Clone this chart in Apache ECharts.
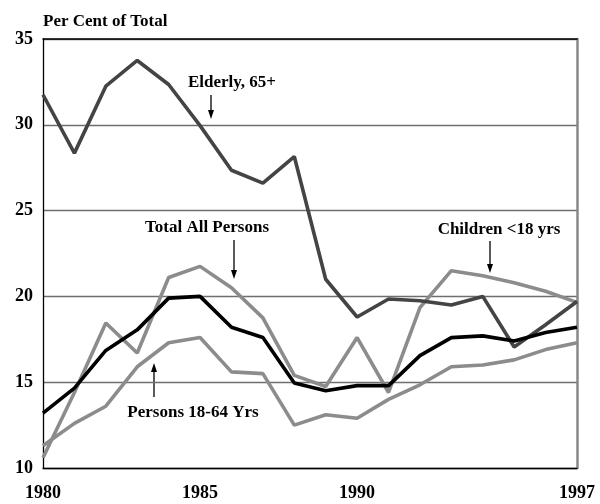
<!DOCTYPE html>
<html>
<head>
<meta charset="utf-8">
<script src="https://cdn.jsdelivr.net/npm/echarts@6/dist/echarts.min.js"></script>
<style>html,body{margin:0;padding:0;background:#fff}#c{width:600px;height:504px}</style>
</head>
<body>
<div id="c"></div>
<script>
const years = ['1980','1981','1982','1983','1984','1985','1986','1987','1988','1989','1990','1991','1992','1993','1994','1995','1996','1997'];
const xLabels = ['1980','1985','1990','1997'];
const elderly = [31.75,28.35,32.25,33.75,32.35,29.95,27.35,26.6,28.15,21.0,18.8,19.85,19.75,19.5,20.0,17.05,18.35,19.7];
const total   = [13.2,14.65,16.85,18.05,19.9,20.0,18.2,17.6,14.95,14.5,14.8,14.8,16.55,17.6,17.7,17.4,17.9,18.2];
const children= [10.6,14.4,18.45,16.7,21.1,21.75,20.5,18.75,15.4,14.75,17.6,14.4,19.35,21.5,21.2,20.8,20.3,19.65];
const adults  = [11.3,12.6,13.6,15.9,17.3,17.6,15.6,15.5,12.5,13.1,12.9,14.0,14.85,15.9,16.0,16.3,16.9,17.3];
const yTicks = [10,15,20,25,30,35];

const FONT = 'Liberation Serif';
const chart = echarts.init(document.getElementById('c'));

function arrow(x, y1, y2) {
  const dir = y2 > y1 ? 1 : -1;
  return {
    type: 'group', children: [
      {type:'line', shape:{x1:x, y1:y1, x2:x, y2:y2 - dir*6}, style:{stroke:'#000', lineWidth:1.3}},
      {type:'polygon', shape:{points:[[x-3, y2 - dir*9],[x+3, y2 - dir*9],[x, y2]]}, style:{fill:'#000'}}
    ]
  };
}
function label(text, cx, cy) {
  return {type:'text', x:cx, y:cy, style:{text:text, font:'bold 17px "' + FONT + '"', fill:'#000', align:'center', verticalAlign:'middle'}};
}

chart.setOption({
  animation: false,
  grid: {left: 43, right: 23, top: 39, bottom: 36, containLabel: false},
  xAxis: [{
    type: 'category', data: years, boundaryGap: false,
    axisLine: {lineStyle: {color: '#000', width: 1.3}},
    axisTick: {show: false},
    splitLine: {show: false},
    axisLabel: {
      interval: (i, v) => xLabels.indexOf(v) >= 0,
      color: '#000', fontFamily: FONT, fontWeight: 'bold', fontSize: 18, margin: 16
    }
  }, {
    type: 'category', data: years, boundaryGap: false, position: 'top',
    axisLine: {lineStyle: {color: '#000', width: 1.5}},
    axisTick: {show: false}, axisLabel: {show: false}, splitLine: {show: false}
  }],
  yAxis: [{
    type: 'value', min: 10, max: 35, interval: 5,
    axisLine: {show: true, lineStyle: {color: '#000', width: 1.3}},
    axisTick: {show: false},
    splitLine: {show: true, lineStyle: {color: '#6e6e6e', width: 1.3}},
    axisLabel: {
      color: '#000', fontFamily: FONT, fontWeight: 'bold', fontSize: 18, margin: 10,
      formatter: v => yTicks.indexOf(v) >= 0 ? String(v) : ''
    },
    name: 'Per Cent of Total', nameLocation: 'end', nameGap: 9,
    nameTextStyle: {color: '#000', fontFamily: FONT, fontWeight: 'bold', fontSize: 17, align: 'left'}
  }, {
    type: 'value', min: 10, max: 35, interval: 5, position: 'right',
    axisLine: {show: true, lineStyle: {color: '#888', width: 2.5}},
    axisTick: {show: false}, axisLabel: {show: false}, splitLine: {show: false}
  }],
  series: [
    {name: 'Persons 18-64 Yrs', type: 'line', data: adults, symbol: 'none', lineStyle: {color: '#8c8c8c', width: 3.6}, z: 2},
    {name: 'Children <18 yrs', type: 'line', data: children, symbol: 'none', lineStyle: {color: '#8c8c8c', width: 3.6}, z: 3},
    {name: 'Elderly, 65+', type: 'line', data: elderly, symbol: 'none', lineStyle: {color: '#444444', width: 3.6}, z: 4},
    {name: 'Total All Persons', type: 'line', data: total, symbol: 'none', lineStyle: {color: '#000', width: 3.6}, z: 5}
  ],
  graphic: [
    label('Elderly, 65+', 232, 83), arrow(211, 95, 119),
    label('Total All Persons', 207, 228), arrow(234, 240, 279),
    label('Children <18 yrs', 499, 230), arrow(490, 241, 273),
    label('Persons 18-64 Yrs', 193, 413), arrow(154, 397, 363)
  ]
});
</script>
</body>
</html>
